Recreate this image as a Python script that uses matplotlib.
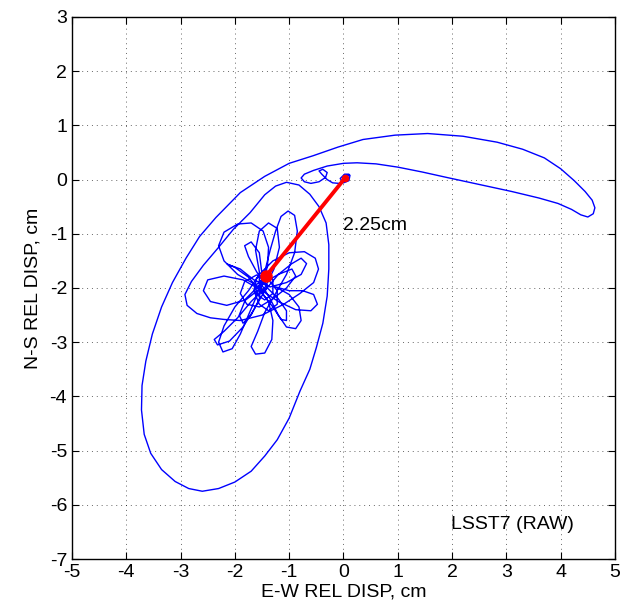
import matplotlib
matplotlib.use("Agg")
import matplotlib.pyplot as plt

plt.rcParams['font.family'] = ['Liberation Sans', 'DejaVu Sans']
plt.rcParams['axes.unicode_minus'] = False

# big excursion of the displacement path, cm
swing_x = [0.0, 0.06, 0.12, 0.1, 0.0, -0.06, 0.02, 0.1, 0.05, -0.08,
           -0.2, -0.3, -0.4, -0.45, -0.38, -0.3, -0.33, -0.45, -0.6, -0.72,
           -0.78, -0.72, -0.55, -0.3, 0.0, 0.25, 0.6, 1.0, 1.45, 1.9,
           2.5, 3.1, 3.6, 3.95, 4.2, 4.37, 4.5, 4.6, 4.63, 4.58,
           4.45, 4.25, 4.0, 3.7, 3.3, 2.83, 2.2, 1.55, 0.95, 0.36,
           -0.1, -0.56, -1.0, -1.45, -1.9, -2.35, -2.65, -2.9, -3.15, -3.35,
           -3.52, -3.64, -3.71, -3.72, -3.67, -3.55, -3.35, -3.1, -2.85, -2.6,
           -2.3, -2.0, -1.7, -1.45, -1.22, -1.0, -0.8, -0.62, -0.5, -0.38,
           -0.3, -0.27, -0.27, -0.32, -0.45, -0.62, -0.82, -1.05, -1.25, -1.45,
           -1.72, -2.03, -2.3, -2.58, -2.8, -2.92, -2.88, -2.7, -2.45, -2.2]
swing_y = [0.0, 0.09, 0.08, -0.02, -0.06, 0.02, 0.1, 0.1, 0.0, -0.07,
           -0.06, 0.0, 0.1, 0.16, 0.19, 0.13, 0.04, -0.04, -0.07, -0.04,
           0.03, 0.1, 0.17, 0.25, 0.3, 0.31, 0.29, 0.23, 0.14, 0.04,
           -0.09, -0.22, -0.34, -0.44, -0.55, -0.65, -0.69, -0.63, -0.52, -0.38,
           -0.22, -0.02, 0.2, 0.4, 0.56, 0.69, 0.8, 0.85, 0.82, 0.74,
           0.6, 0.44, 0.3, 0.06, -0.24, -0.7, -1.05, -1.45, -1.9, -2.35,
           -2.85, -3.35, -3.8, -4.25, -4.7, -5.05, -5.35, -5.57, -5.7, -5.75,
           -5.7, -5.58, -5.38, -5.1, -4.8, -4.4, -3.9, -3.5, -3.1, -2.65,
           -2.15, -1.65, -1.2, -0.8, -0.5, -0.27, -0.1, -0.05, -0.12, -0.28,
           -0.61, -0.92, -1.25, -1.58, -1.88, -2.12, -2.32, -2.47, -2.55, -2.58]

# decaying oscillation round the final position, one line per loop
tangle_x = [-1.9, -1.5, -1.1, -0.8, -0.55, -0.46, -0.52, -0.72, -1.0, -1.3, -1.55,
            -1.75, -2.0, -2.2, -2.3, -2.22, -2.05, -1.9, -1.75, -1.6,
            -1.45, -1.35, -1.25, -1.15, -1.02, -0.9, -0.85, -0.9, -1.05, -1.25,
            -1.45, -1.58, -1.7, -1.62, -1.45, -1.32, -1.3, -1.38,
            -1.6, -1.95, -2.2, -2.3, -2.2, -1.95, -1.7, -1.48, -1.38, -1.4, -1.5,
            -1.35, -1.2, -1.05, -0.88, -0.78, -0.82, -1.0, -1.25,
            -1.0, -0.75, -0.55, -0.48, -0.6, -0.88, -1.2, -1.5,
            -1.85, -2.2, -2.5, -2.58, -2.45, -2.15, -1.8, -1.55,
            -1.55, -1.62, -1.55, -1.38, -1.22, -1.18, -1.28, -1.45,
            -1.7, -1.95, -2.2, -2.38, -2.32, -2.1, -1.85, -1.62, -1.45,
            -1.2, -0.95, -0.78, -0.68, -0.78, -1.05, -1.35,
            -1.65, -1.9, -2.14, -2.0, -1.75, -1.5,
            -1.3, -1.15, -1.05, -1.05, -1.2, -1.4,
            -1.6, -1.75, -1.82, -1.7, -1.55, -1.5, -1.55,
            -1.7, -1.85, -1.92, -1.8, -1.55,
            -1.2, -0.95, -0.88, -1.05, -1.3, -1.55, -1.78, -1.9, -1.82, -1.6,
            -1.38, -1.22, -1.22, -1.38, -1.55, -1.65, -1.6, -1.45, -1.3, -1.3,
            -1.45, -1.6, -1.62, -1.5, -1.4, -1.45, -1.52, -1.47, -1.42]
tangle_y = [-2.6, -2.5, -2.3, -2.1, -1.9, -1.65, -1.45, -1.33, -1.35, -1.5, -1.75,
            -2.05, -2.35, -2.7, -3.0, -3.18, -3.12, -2.85, -2.5, -2.15,
            -1.7, -1.3, -0.95, -0.68, -0.58, -0.66, -0.95, -1.35, -1.75, -2.1,
            -2.45, -2.8, -3.08, -3.22, -3.2, -2.95, -2.6, -2.25,
            -1.95, -1.75, -1.5, -1.22, -0.97, -0.82, -0.8, -0.95, -1.25, -1.6, -1.95,
            -2.2, -2.5, -2.72, -2.75, -2.6, -2.35, -2.12, -1.98,
            -2.05, -2.05, -2.12, -2.3, -2.42, -2.4, -2.25, -2.05,
            -1.85, -1.78, -1.85, -2.05, -2.25, -2.32, -2.22, -2.02,
            -1.7, -1.3, -0.95, -0.8, -0.9, -1.25, -1.65, -2.0,
            -2.25, -2.55, -2.8, -2.95, -3.05, -2.98, -2.72, -2.35, -2.05,
            -1.75, -1.55, -1.45, -1.55, -1.75, -1.9, -1.98,
            -1.85, -1.65, -1.56, -1.62, -1.8, -2.1,
            -2.35, -2.58, -2.6, -2.42, -2.2, -2.0,
            -1.7, -1.42, -1.22, -1.15, -1.35, -1.75, -2.2,
            -2.5, -2.65, -2.5, -2.2, -1.95,
            -1.75, -1.65, -1.78, -2.0, -2.2, -2.35, -2.3, -2.1, -1.88, -1.76,
            -1.85, -2.05, -2.3, -2.42, -2.3, -2.05, -1.82, -1.72, -1.85, -2.1,
            -2.22, -2.12, -1.95, -1.85, -1.95, -2.08, -2.0, -1.9, -1.77]

# residual displacement vector
arrow_x = [-1.42, 0.03]
arrow_y = [-1.77, 0.03]

fig = plt.figure(figsize=(6.2, 6.09), dpi=100)
ax = fig.add_axes([0.1161, 0.0821, 0.8758, 0.890])

ax.plot(swing_x + tangle_x, swing_y + tangle_y, color='blue', lw=1.0)
ax.plot(arrow_x, arrow_y, color='red', lw=2.8, solid_capstyle='round')
ax.plot(arrow_x[0], arrow_y[0], 'o', color='red', ms=8)
ax.plot(arrow_x[1], arrow_y[1], 'o', color='red', ms=4.5)

ax.text(0.0, -0.85, '2.25cm', fontsize=14, va='center', ha='left')
ax.text(1.98, -6.37, 'LSST7 (RAW)', fontsize=14, va='center', ha='left')

ax.set_xlim(-5, 5)
ax.set_ylim(-7, 3)
ax.set_xticks(range(-5, 6))
ax.set_yticks(range(-7, 4))
ax.tick_params(direction='in', top=True, right=True, labelsize=14, length=5)
ax.grid(True, linestyle=(0, (1, 4)), color='black', lw=0.7, alpha=0.6)
for s in ax.spines.values():
    s.set_linewidth(1.0)

ax.set_xlabel('E-W REL DISP, cm', fontsize=14, labelpad=2)
ax.set_ylabel('N-S REL DISP, cm', fontsize=14, labelpad=6)

fig.savefig('out.png', dpi=100)
